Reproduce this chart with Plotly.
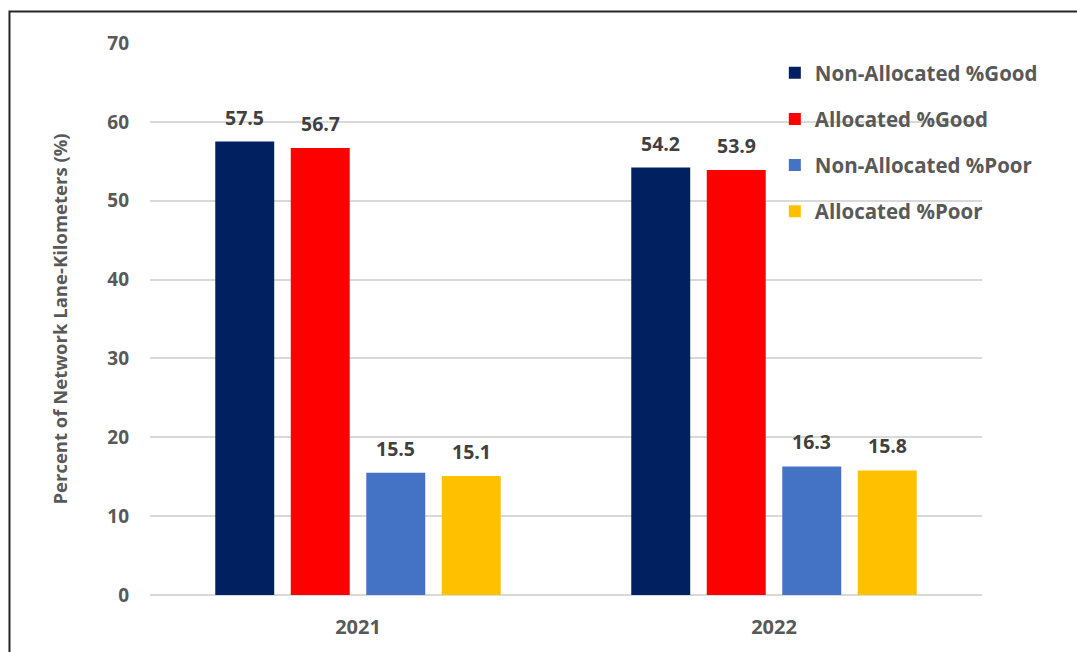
import plotly.graph_objects as go

# Survey years and pavement condition shares (% of network lane-km)
years = ["2021", "2022"]
series_names = ["Non-Allocated %Good", "Allocated %Good", "Non-Allocated %Poor", "Allocated %Poor"]
non_alloc_good = [57.5, 54.2]
alloc_good = [56.7, 53.9]
non_alloc_poor = [15.5, 16.3]
alloc_poor = [15.1, 15.8]
y_ticks = [0, 10, 20, 30, 40, 50, 60, 70]

series_values = [non_alloc_good, alloc_good, non_alloc_poor, alloc_poor]
colors = ["#002060", "#FF0000", "#4472C4", "#FFC000"]

FONT = "Open Sans"
GRAY = "#595959"
LABEL = "#404040"

fig = go.Figure()
for i, (name, vals, col) in enumerate(zip(series_names, series_values, colors)):
    fig.add_trace(go.Bar(
        x=years, y=vals, name=name, marker_color=col,
        marker_line_width=0, legendgroup=f"g{i}",
    ))

# Value labels above each bar (x given as category index)
slot_px = 75.5
for i, vals in enumerate(series_values):
    for j, v in enumerate(vals):
        fig.add_annotation(
            x=j, y=v, text=f"<b>{v:.1f}</b>", showarrow=False,
            xanchor="center", yanchor="bottom",
            xshift=(i - 1.5) * slot_px, yshift=9,
            font=dict(family=FONT, size=19.5, color=LABEL),
        )

# Outer frame of the chart
fig.add_shape(type="rect", xref="paper", yref="paper",
              x0=-0.1689, x1=1.3, y0=-0.3, y1=1.0571,
              line=dict(color="#262626", width=2), layer="above")

fig.update_layout(
    width=1077, height=652,
    margin=dict(l=150, r=95, t=43, b=57),
    paper_bgcolor="white", plot_bgcolor="white",
    barmode="group", bargap=0.274, bargroupgap=0.219,
    font=dict(family=FONT, color=GRAY),
    showlegend=True,
    legend=dict(
        x=0.751, y=0.982, xanchor="left", yanchor="top",
        bgcolor="rgba(0,0,0,0)", traceorder="grouped", tracegroupgap=16.5,
        font=dict(family=FONT, size=20.5, color=GRAY, weight="bold"),
        itemwidth=30,
    ),
    xaxis=dict(
        type="category", range=[-0.5, 1.5],
        showgrid=False, showline=False, ticks="",
        tickfont=dict(family=FONT, size=20, color=GRAY, weight="bold"),
        ticklabelstandoff=18,
    ),
    yaxis=dict(
        range=[0, 70], tickvals=y_ticks, showgrid=True, gridcolor="#D9D9D9",
        gridwidth=1.5, zeroline=True, zerolinecolor="#D9D9D9", zerolinewidth=1.5,
        showline=False, ticks="",
        tickfont=dict(family=FONT, size=19, color=GRAY, weight="bold"),
        ticklabelstandoff=20,
        title=dict(text="Percent of Network Lane-Kilometers (%)", standoff=34,
                   font=dict(family=FONT, size=18.5, color=GRAY, weight="bold")),
    ),
)

fig.write_html("out.html")
